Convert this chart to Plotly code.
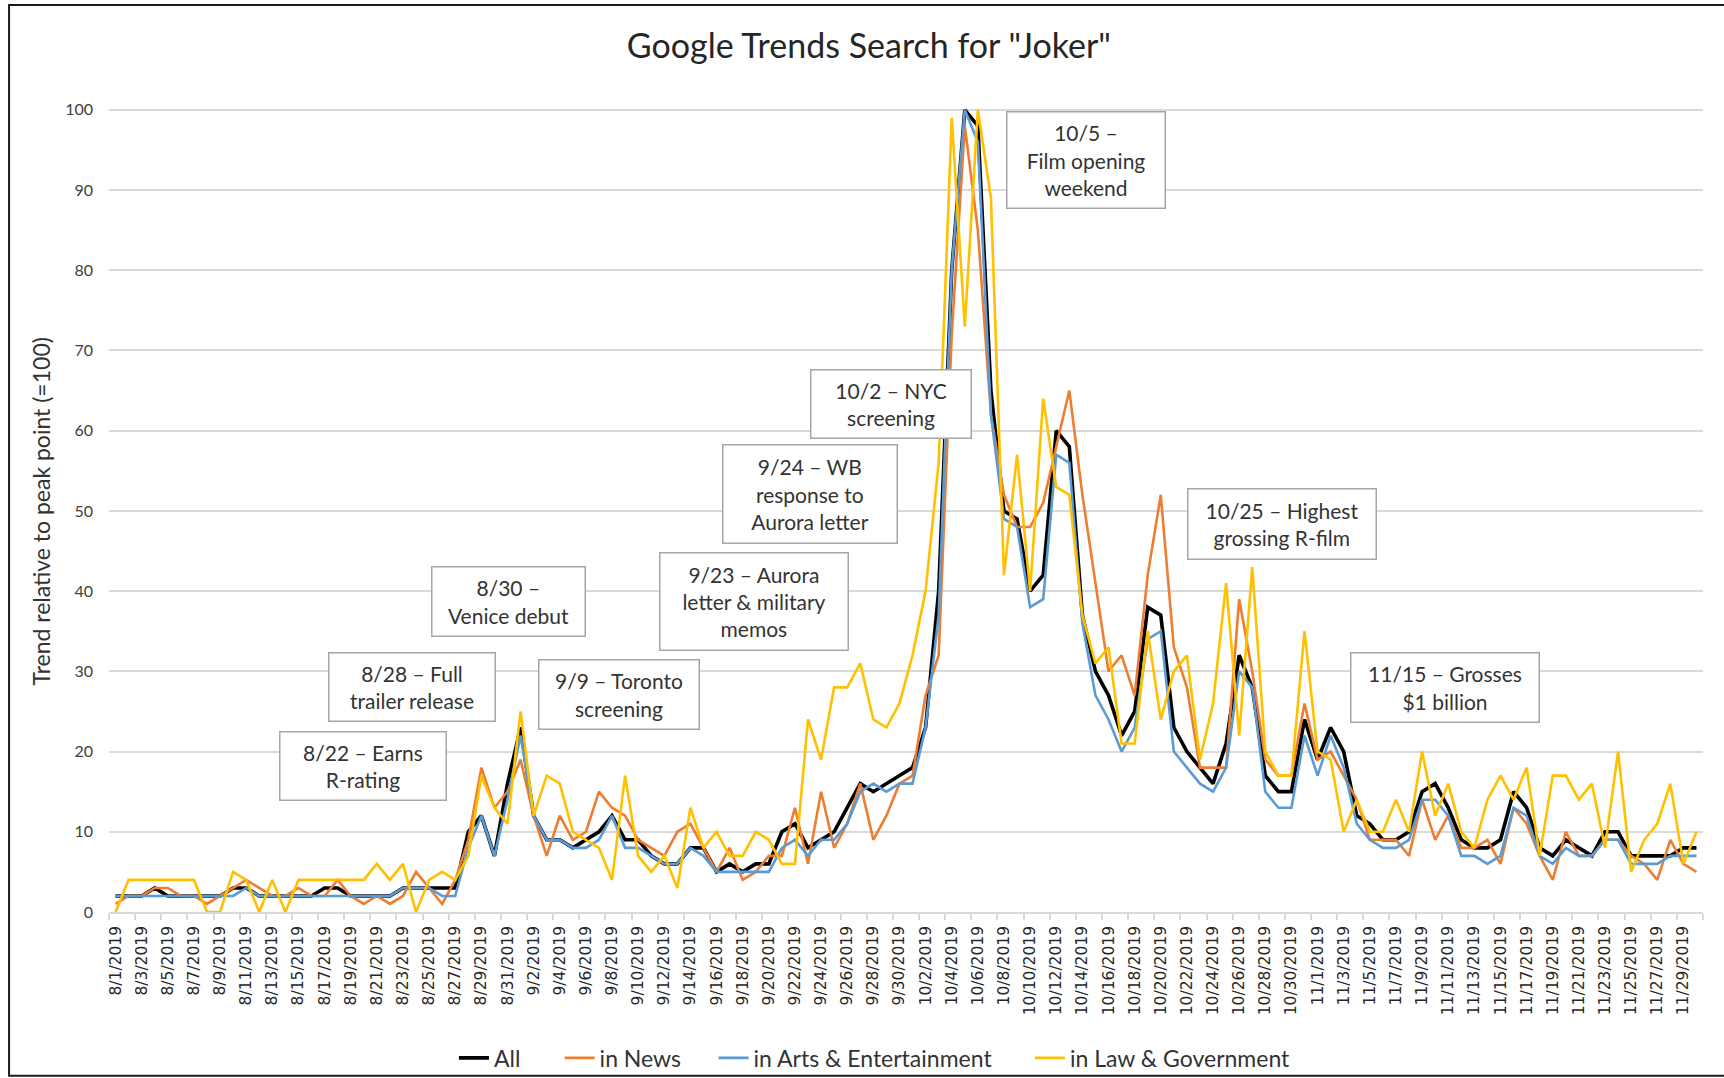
import pandas as pd
import plotly.graph_objects as go

# ---------------- data ----------------
dates = pd.date_range("2019-08-01", "2019-11-30", freq="D")

all_vals = [
    2, 2, 2, 3, 2, 2, 2, 2, 2, 3,
    3, 2, 2, 2, 2, 2, 3, 3, 2, 2,
    2, 2, 3, 3, 3, 3, 3, 10, 12, 7,
    16, 23, 12, 9, 9, 8, 9, 10, 12, 9,
    9, 7, 6, 6, 8, 8, 5, 6, 5, 6,
    6, 10, 11, 8, 9, 10, 13, 16, 15, 16,
    17, 18, 23, 40, 80, 100, 98, 65, 50, 49,
    40, 42, 60, 58, 37, 30, 27, 22, 25, 38,
    37, 23, 20, 18, 16, 21, 32, 28, 17, 15,
    15, 24, 19, 23, 20, 12, 11, 9, 9, 10,
    15, 16, 13, 9, 8, 8, 9, 15, 13, 8,
    7, 9, 8, 7, 10, 10, 7, 7, 7, 7,
    8, 8,
]
news_vals = [
    1, 2, 2, 3, 3, 2, 2, 1, 2, 3,
    4, 3, 2, 2, 3, 2, 2, 4, 2, 1,
    2, 1, 2, 5, 3, 1, 4, 9, 18, 13,
    15, 19, 12, 7, 12, 9, 10, 15, 13, 12,
    9, 8, 7, 10, 11, 8, 5, 8, 4, 5,
    7, 7, 13, 6, 15, 8, 11, 16, 9, 12,
    16, 17, 27, 32, 72, 98, 85, 62, 52, 48,
    48, 51, 58, 65, 52, 41, 30, 32, 27, 42,
    52, 33, 28, 18, 18, 18, 39, 30, 19, 17,
    17, 26, 19, 20, 17, 14, 9, 9, 9, 7,
    14, 9, 12, 8, 8, 9, 6, 13, 11, 7,
    4, 10, 7, 7, 9, 9, 7, 6, 4, 9,
    6, 5,
]
arts_vals = [
    2, 2, 2, 2, 2, 2, 2, 2, 2, 2,
    3, 2, 2, 2, 2, 2, 2, 2, 2, 2,
    2, 2, 3, 3, 3, 2, 2, 8, 12, 7,
    14, 22, 12, 9, 9, 8, 8, 9, 12, 8,
    8, 7, 6, 6, 8, 7, 5, 5, 5, 5,
    5, 8, 9, 7, 9, 9, 11, 15, 16, 15,
    16, 16, 23, 37, 80, 100, 96, 62, 49, 48,
    38, 39, 57, 56, 36, 27, 24, 20, 23, 34,
    35, 20, 18, 16, 15, 18, 30, 28, 15, 13,
    13, 22, 17, 22, 18, 11, 9, 8, 8, 9,
    14, 14, 12, 7, 7, 6, 7, 13, 12, 7,
    6, 8, 7, 7, 9, 9, 6, 6, 6, 7,
    7, 7,
]
law_vals = [
    0, 4, 4, 4, 4, 4, 4, 0, 0, 5,
    4, 0, 4, 0, 4, 4, 4, 4, 4, 4,
    6, 4, 6, 0, 4, 5, 4, 7, 17, 13,
    11, 25, 12, 17, 16, 10, 9, 8, 4, 17,
    7, 5, 7, 3, 13, 8, 10, 7, 7, 10,
    9, 6, 6, 24, 19, 28, 28, 31, 24, 23,
    26, 32, 40, 56, 99, 73, 100, 89, 42, 57,
    40, 64, 53, 52, 37, 31, 33, 21, 21, 35,
    24, 30, 32, 19, 26, 41, 22, 43, 20, 17,
    17, 35, 20, 19, 10, 14, 10, 10, 14, 10,
    20, 12, 16, 10, 8, 14, 17, 14, 18, 7,
    17, 17, 14, 16, 8, 20, 5, 9, 11, 16,
    6, 10,
]

series_names = ["All", "in News", "in Arts & Entertainment", "in Law & Government"]
series_colors = ["#000000", "#ED7D31", "#5B9BD5", "#FFC000"]
series_widths = [3.6, 2.6, 2.6, 2.6]
legend_ids = ["legend", "legend2", "legend3", "legend4"]
legend_x = [0.2633, 0.3246, 0.4139, 0.5974]

# event call-outs: text, day offset from 8/1, value level, box width, box height
ann_texts = [
    "10/5 –<br>Film opening<br>weekend",
    "10/2 – NYC<br>screening",
    "9/24 – WB<br>response to<br>Aurora letter",
    "10/25 – Highest<br>grossing R-film",
    "9/23 – Aurora<br>letter &amp; military<br>memos",
    "8/30 –<br>Venice debut",
    "9/9 – Toronto<br>screening",
    "8/28 – Full<br>trailer release",
    "8/22 – Earns<br>R-rating",
    "11/15 – Grosses<br>$1 billion",
]
ann_day = [74.3, 59.35, 53.15, 89.28, 48.87, 30.08, 38.53, 22.69, 18.94, 101.75]
ann_val = [93.8, 63.3, 52.1, 48.4, 38.65, 38.7, 27.1, 28.05, 18.2, 28.0]
ann_w = [160, 162, 176, 190, 190, 155, 162, 168, 168, 190]
ann_h = [98, 70, 100, 72, 99, 71, 71, 70, 70, 71]

FONT = "Lato"
TXT = "#333333"

fig = go.Figure()
for name, vals, col, w, lg in zip(series_names, [all_vals, news_vals, arts_vals, law_vals],
                                  series_colors, series_widths, legend_ids):
    fig.add_trace(go.Scatter(x=dates, y=vals, mode="lines", name=name, legend=lg,
                             line=dict(color=col, width=w)))

annotations = []
start = dates[0]
for t, d, v, w, h in zip(ann_texts, ann_day, ann_val, ann_w, ann_h):
    annotations.append(dict(
        x=start + pd.Timedelta(days=d), y=v, xref="x", yref="y",
        text=t, showarrow=False, xanchor="center", yanchor="middle",
        width=w - 3, height=h - 3, borderpad=0, borderwidth=1.5,
        bordercolor="#A6A6A6", bgcolor="white",
        font=dict(family=FONT, size=21, color=TXT), align="center",
    ))
# y-axis title
annotations.append(dict(
    x=-0.043, y=0.497, xref="paper", yref="paper", text="Trend relative to peak point (=100)",
    textangle=-90, showarrow=False, xanchor="center", yanchor="middle",
    font=dict(family=FONT, size=23, color=TXT),
))

legend_layout = {}
for lg, lx in zip(legend_ids, legend_x):
    legend_layout[lg] = dict(
        orientation="h", xref="container", yref="container",
        x=lx, xanchor="left", y=0.0186, yanchor="middle",
        font=dict(family=FONT, size=23, color=TXT), itemwidth=30,
        bgcolor="rgba(0,0,0,0)", borderwidth=0,
    )

fig.update_layout(
    width=1724, height=1078,
    margin=dict(l=109, r=21, t=105, b=166, autoexpand=False),
    paper_bgcolor="white", plot_bgcolor="white",
    font=dict(family=FONT, color=TXT),
    title=dict(text='Google Trends Search for "Joker"', x=0.504, xref="container",
               y=0.957, yref="container", xanchor="center", yanchor="middle",
               font=dict(family=FONT, size=34, color="#262626")),
    annotations=annotations,
    shapes=[dict(type="rect", xref="paper", yref="paper",
                 x0=-0.0627, x1=1.05, y0=-0.203, y1=1.124,
                 line=dict(color="#1a1a1a", width=2), fillcolor="rgba(0,0,0,0)", layer="below")],
    showlegend=True,
    **legend_layout,
)
fig.update_xaxes(
    type="date", automargin=False,
    range=[start - pd.Timedelta(hours=12), dates[-1] + pd.Timedelta(hours=12)],
    tickmode="linear", tick0=start, dtick=2 * 86400000,
    tickformat="%-m/%-d/%Y", tickangle=-90,
    tickfont=dict(family="DejaVu Sans", size=15.5, color="#262626"),
    ticks="", ticklabelstandoff=6,
    showgrid=False, showline=True, linecolor="#D9D9D9", linewidth=1.5,
    minor=dict(ticks="outside", ticklen=6, tickcolor="#D9D9D9", tickwidth=1.5,
               tick0=start - pd.Timedelta(hours=12), dtick=2 * 86400000, showgrid=False),
)
fig.update_yaxes(
    range=[0, 100.6], tickmode="linear", tick0=0, dtick=10, automargin=False,
    tickfont=dict(family=FONT, size=16, color="#404040"),
    showgrid=True, gridcolor="#D9D9D9", gridwidth=1.5, zeroline=False,
    showline=False, ticks="", ticklabelstandoff=15,
)

fig.write_html("out.html", config={"displayModeBar": False},
               post_script="document.body.style.margin='0';")
